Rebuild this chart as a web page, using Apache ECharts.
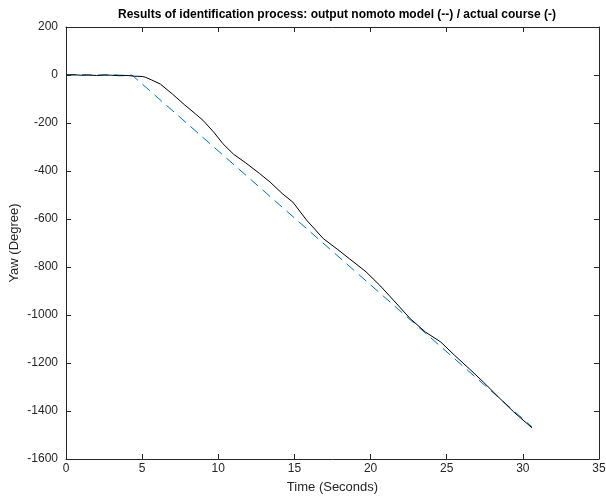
<!DOCTYPE html>
<html>
<head>
<meta charset="utf-8">
<script src="https://cdn.jsdelivr.net/npm/echarts@6/dist/echarts.min.js"></script>
<style>
html, body { margin: 0; padding: 0; background: #fff; }
#main { width: 606px; height: 496px; }
</style>
</head>
<body>
<div id="main"></div>
<script>
// actual course (-)
var actualTime = [0, 0.5, 1, 1.5, 2, 2.5, 3, 3.5, 4, 4.5, 5, 5.2, 5.6, 6.2, 7, 7.8, 8.5, 9, 9.7, 10.3, 11, 11.8, 12.7, 13.4, 14.2, 14.9, 15.8, 16.9, 17.8, 18.6, 19.7, 20.6, 21.5, 22.6, 23.6, 24.6, 25.5, 26.5, 27.4, 28.4, 29.4, 30.6];
var actualYaw = [0, 1, -1, 0, -2, 0, -1, -3, -2, -5, -6, -9, -20, -38, -80, -125, -162, -189, -238, -286, -330, -366, -410, -446, -494, -530, -605, -682, -725, -765, -820, -876, -938, -1015, -1071, -1112, -1167, -1225, -1279, -1342, -1404, -1470];
// output nomoto model (--)
var modelTime = [0, 1, 2, 3, 4, 4.33, 30.6];
var modelYaw = [0, 1, -1, 1, -2, 0, -1466];

function pairs(xs, ys) {
    var out = [];
    for (var i = 0; i < xs.length; i++) {
        out.push([xs[i], ys[i]]);
    }
    return out;
}

var axisColor = '#262626';
var font = 'Liberation Sans, Arial, Helvetica, sans-serif';

var option = {
    animation: false,
    backgroundColor: '#fff',
    title: {
        text: 'Results of identification process: output nomoto model (--) / actual course (-)',
        left: 332,
        textAlign: 'center',
        top: 4,
        textStyle: { fontFamily: font, fontSize: 12, fontWeight: 'bold', color: '#000' }
    },
    grid: { left: 66, right: 7, top: 27, bottom: 37, containLabel: false, outerBoundsMode: 'none' },
    xAxis: [
        {
            type: 'value', min: 0, max: 35, interval: 5,
            name: 'Time (Seconds)', nameLocation: 'middle', nameGap: 22, nameMoveOverlap: false,
            nameTextStyle: { fontFamily: font, fontSize: 13, color: axisColor },
            axisLine: { show: true, onZero: false, lineStyle: { color: axisColor, width: 1 } },
            axisTick: { show: true, inside: true, length: 5, lineStyle: { color: axisColor } },
            axisLabel: { fontFamily: font, fontSize: 12, color: axisColor, margin: 4 },
            splitLine: { show: false }
        },
        {
            type: 'value', min: 0, max: 35, interval: 5, position: 'top',
            axisLine: { show: true, onZero: false, lineStyle: { color: axisColor, width: 1 } },
            axisTick: { show: true, inside: true, length: 5, lineStyle: { color: axisColor } },
            axisLabel: { show: false },
            splitLine: { show: false }
        }
    ],
    yAxis: [
        {
            type: 'value', min: -1600, max: 200, interval: 200,
            name: 'Yaw (Degree)', nameLocation: 'middle', nameGap: 45, nameMoveOverlap: false,
            nameTextStyle: { fontFamily: font, fontSize: 13, color: axisColor },
            axisLine: { show: true, onZero: false, lineStyle: { color: axisColor, width: 1 } },
            axisTick: { show: true, inside: true, length: 5, lineStyle: { color: axisColor } },
            axisLabel: {
                fontFamily: font, fontSize: 12, color: axisColor, margin: 8,
                formatter: function (v) { return String(v); }
            },
            splitLine: { show: false }
        },
        {
            type: 'value', min: -1600, max: 200, interval: 200, position: 'right',
            axisLine: { show: true, onZero: false, lineStyle: { color: axisColor, width: 1 } },
            axisTick: { show: true, inside: true, length: 5, lineStyle: { color: axisColor } },
            axisLabel: { show: false },
            splitLine: { show: false }
        }
    ],
    series: [
        {
            name: 'model',
            type: 'line',
            data: pairs(modelTime, modelYaw),
            showSymbol: false,
            lineStyle: { color: '#0072BD', width: 1, type: [10, 6] },
            z: 2
        },
        {
            name: 'actual',
            type: 'line',
            data: pairs(actualTime, actualYaw),
            showSymbol: false,
            lineStyle: { color: '#000', width: 1 },
            z: 3
        }
    ]
};

var myChart = echarts.init(document.getElementById('main'));
myChart.setOption(option);
</script>
</body>
</html>
